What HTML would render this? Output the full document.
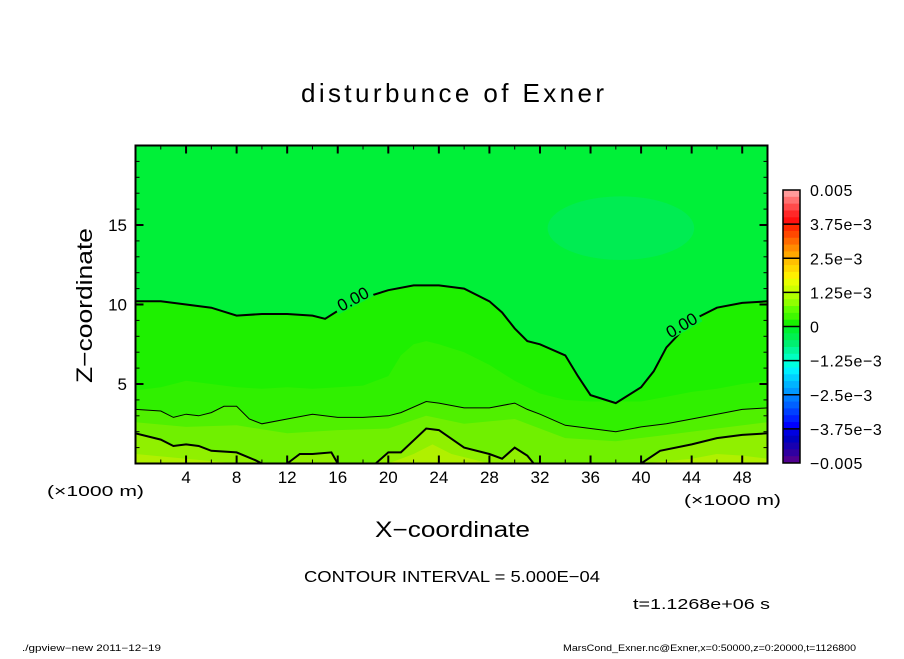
<!DOCTYPE html>
<html><head><meta charset="utf-8"><style>
body{margin:0;background:#fff;}
svg text{font-family:"Liberation Sans",sans-serif;fill:#000;}
</style></head><body>
<svg id="chart" width="904" height="654" viewBox="0 0 904 654" xmlns="http://www.w3.org/2000/svg">
<defs><clipPath id="pclip"><rect x="135.5" y="145.5" width="632" height="318"/></clipPath></defs>
<text x="301" y="102" font-size="26" textLength="303" lengthAdjust="spacing">disturbunce of Exner</text>
<g id="plot" clip-path="url(#pclip)"></g>
<g id="axes"></g>
<g id="cbar"></g>
<text x="375" y="537" font-size="22" textLength="155" lengthAdjust="spacingAndGlyphs">X−coordinate</text>
<text transform="translate(92,383) rotate(-90)" font-size="22" textLength="155" lengthAdjust="spacingAndGlyphs">Z−coordinate</text>
<text x="47" y="496" font-size="15" textLength="97" lengthAdjust="spacingAndGlyphs">(×1000 m)</text>
<text x="684" y="505" font-size="15" textLength="97" lengthAdjust="spacingAndGlyphs">(×1000 m)</text>
<text x="304" y="582" font-size="16" textLength="296" lengthAdjust="spacingAndGlyphs">CONTOUR INTERVAL = 5.000E−04</text>
<text x="633" y="609" font-size="15" textLength="137" lengthAdjust="spacingAndGlyphs">t=1.1268e+06 s</text>
<text x="22" y="651" font-size="9" textLength="139" lengthAdjust="spacingAndGlyphs">./gpview−new   2011−12−19</text>
<text x="563" y="651" font-size="9" textLength="293" lengthAdjust="spacingAndGlyphs">MarsCond_Exner.nc@Exner,x=0:50000,z=0:20000,t=1126800</text>
</svg>
<script>
// contour / band boundary data (x in 1000 m, z in 1000 m)
const zeroX = [0,2,4,6,8,10,12,14,15,16,18,20,22,24,26,28,29,30,31,32,34,35,36,38,40,41,42,44,46,48,50];
const zeroZ = [10.2,10.2,10.0,9.8,9.3,9.4,9.4,9.3,9.1,9.6,10.4,10.9,11.2,11.2,11.0,10.2,9.5,8.5,7.7,7.5,6.8,5.5,4.3,3.8,4.8,5.8,7.3,9.0,9.8,10.1,10.2];
const midX = [0,2,4,6,8,10,12,14,16,18,20,21,22,23,24,26,28,30,32,34,36,38,40,42,44,46,48,50];
const midZ = [4.6,4.8,5.2,5.0,4.8,4.7,4.8,4.7,4.8,4.9,5.5,6.8,7.5,7.7,7.5,7.0,6.2,5.2,4.4,4.0,3.9,3.9,3.9,4.2,4.5,4.7,5.0,5.2];
const halfX = [0,2,3,4,5,6,7,8,9,10,12,14,16,18,20,21,23,24,26,28,30,31,32,34,36,38,40,42,44,46,48,50];
const halfZ = [3.4,3.3,2.9,3.1,3.0,3.2,3.6,3.6,2.8,2.5,2.8,3.1,2.9,2.9,3.0,3.2,3.9,3.8,3.5,3.5,3.8,3.4,3.1,2.4,2.2,2.0,2.3,2.5,2.8,3.1,3.4,3.5];
const q3X = [0,4,8,12,16,20,23,26,30,34,38,42,46,50];
const q3Z = [2.6,2.3,2.4,1.9,2.1,2.2,3.0,2.5,2.8,1.6,1.4,1.8,2.2,2.6];
const oneX = [0,2,3,4,5,6,8,9.5,10,12,13,14,15.5,16,19,20,21,23,24,26,28,29,30,31,31.5,40,41.5,44,46,48,50];
const oneZ = [1.9,1.5,1.1,1.2,1.1,0.8,0.7,0.2,0,0,0.6,0.6,0.7,0,0,0.7,0.7,2.2,2.1,1.0,0.6,0.3,1.0,0.5,0,0,0.8,1.2,1.6,1.8,1.9];
const lowX = [0,4,8,12,16,20,22,23.5,25,28,32,36,40,44,46,48,50];
const lowZ = [0.6,0.3,0,0,0,0,0.6,1.2,0.6,0,0,0,0,0.3,0.6,0.5,0.3];
const xTicks = [4,8,12,16,20,24,28,32,36,40,44,48];
const yTicks = [5,10,15];
const cbLabels = ["0.005","3.75e−3","2.5e−3","1.25e−3","0","−1.25e−3","−2.5e−3","−3.75e−3","−0.005"];
const cbColors = ["#ff9a9a","#ff7070","#ff4a4a","#ff2828","#ff1010","#ff2a00","#ff4800","#ff6a00","#ff8c00","#ffa800","#ffc000","#ffd800","#fff000","#e8ff00","#ccff00","#b0ff00","#90ff00","#60ff00","#40f800","#18f000","#00f030","#00f050","#00f070","#00f89a","#00ffc0","#00ffe0","#00f0ff","#00d0ff","#00b4ff","#0098ff","#007cff","#0060ff","#0040ff","#0020ff","#0000ff","#0000e0","#0000c0","#1800b0","#3000a0","#500090"];

const NS="http://www.w3.org/2000/svg";
const X0=135.5, X1=767.5, Y0=463.5, Y1=145.5;
const sx = v => X0 + (v/50)*(X1-X0);
const sy = v => Y0 - (v/20)*(Y0-Y1);
function mk(tag, attrs, parent){const e=document.createElementNS(NS,tag);for(const k in attrs)e.setAttribute(k,attrs[k]);parent.appendChild(e);return e;}
function linePts(xs,zs){return xs.map((x,i)=>sx(x).toFixed(1)+","+sy(zs[i]).toFixed(1)).join(" ");}
const plot=document.getElementById('plot');
const axes=document.getElementById('axes');
const cbar=document.getElementById('cbar');

let bg=mk('rect',{x:X0,y:Y1,width:X1-X0,height:Y0-Y1,fill:'#00f038'},plot);


let blob=mk('ellipse',{cx:sx(38.4),cy:sy(14.8),rx:sx(44.2)-sx(38.4),ry:sy(13.2)-sy(15.2),fill:'#00ec52'},plot);


function band(xs,zs,color,name){
  const pts=linePts(xs,zs)+" "+sx(50)+","+sy(0)+" "+sx(0)+","+sy(0);
  const p=mk('polygon',{points:pts,fill:color},plot);
  
  
}
band(zeroX,zeroZ,'#1ef000','band-0');
band(midX,midZ,'#30f000','band-1');
band(halfX,halfZ,'#50f000','band-2');
band(q3X,q3Z,'#70f000','band-3');
band(oneX,oneZ,'#90f000','band-4');
band(lowX,lowZ,'#b0f000','band-5');
function cline(xs,zs,w,name){
  const p=mk('polyline',{points:linePts(xs,zs),fill:'none',stroke:'#000','stroke-width':w},plot);
  
  
}
cline(zeroX,zeroZ,2,'contour-zero');
cline(halfX,halfZ,1,'contour-5e-4');
cline(oneX,oneZ,2,'contour-1e-3');
[[17.2,10.35,-28],[43.2,8.7,-30]].forEach((c,i)=>{
  const x=sx(c[0]),y=sy(c[1]);
  const r=mk('rect',{x:x-20,y:y-9,width:40,height:16,fill:'#00f038',transform:`rotate(${c[2]} ${x} ${y})`},plot);
  
  
  const t=mk('text',{x:x,y:y+6,'font-size':17,'text-anchor':'middle',transform:`rotate(${c[2]} ${x} ${y})`},plot);
  t.textContent='0.00';
  
  
});
let fr=mk('rect',{x:X0,y:Y1,width:X1-X0,height:Y0-Y1,fill:'none',stroke:'#000','stroke-width':2},axes);


for(let v=2;v<50;v+=2){
  const major=xTicks.includes(v);
  const L=major?8:4;
  mk('line',{x1:sx(v),x2:sx(v),y1:Y0,y2:Y0-L,stroke:'#000','stroke-width':major?2:1},axes);
  mk('line',{x1:sx(v),x2:sx(v),y1:Y1,y2:Y1+L,stroke:'#000','stroke-width':major?2:1},axes);
}
xTicks.forEach(v=>{
  const t=mk('text',{x:sx(v),y:483,'font-size':17,'text-anchor':'middle'},axes);
  t.textContent=v;
  
  
});
for(let v=1;v<20;v++){
  const major=yTicks.includes(v);
  const L=major?8:4;
  mk('line',{x1:X0,x2:X0+L,y1:sy(v),y2:sy(v),stroke:'#000','stroke-width':major?2:1},axes);
  mk('line',{x1:X1,x2:X1-L,y1:sy(v),y2:sy(v),stroke:'#000','stroke-width':major?2:1},axes);
}
yTicks.forEach(v=>{
  const t=mk('text',{x:127,y:sy(v)+6,'font-size':17,'text-anchor':'end'},axes);
  t.textContent=v;
  
  
});
const CX=783, CW=17, CT=190, CB=463;
const n=cbColors.length, h=(CB-CT)/n;
cbColors.forEach((c,i)=>{
  const r=mk('rect',{x:CX,y:CT+i*h,width:CW,height:h+0.5,fill:c},cbar);
  
  
});
mk('rect',{x:CX,y:CT,width:CW,height:CB-CT,fill:'none',stroke:'#000','stroke-width':1.5},cbar);
cbLabels.forEach((l,i)=>{
  const y=CT+i*(CB-CT)/(cbLabels.length-1);
  if(i>0&&i<cbLabels.length-1) mk('line',{x1:CX,x2:CX+CW,y1:y,y2:y,stroke:'#000','stroke-width':1.5},cbar);
  const t=mk('text',{x:810,y:y+6,'font-size':16,'letter-spacing':'0.6'},cbar);
  t.textContent=l;
  
  
});
</script>
</body></html>
